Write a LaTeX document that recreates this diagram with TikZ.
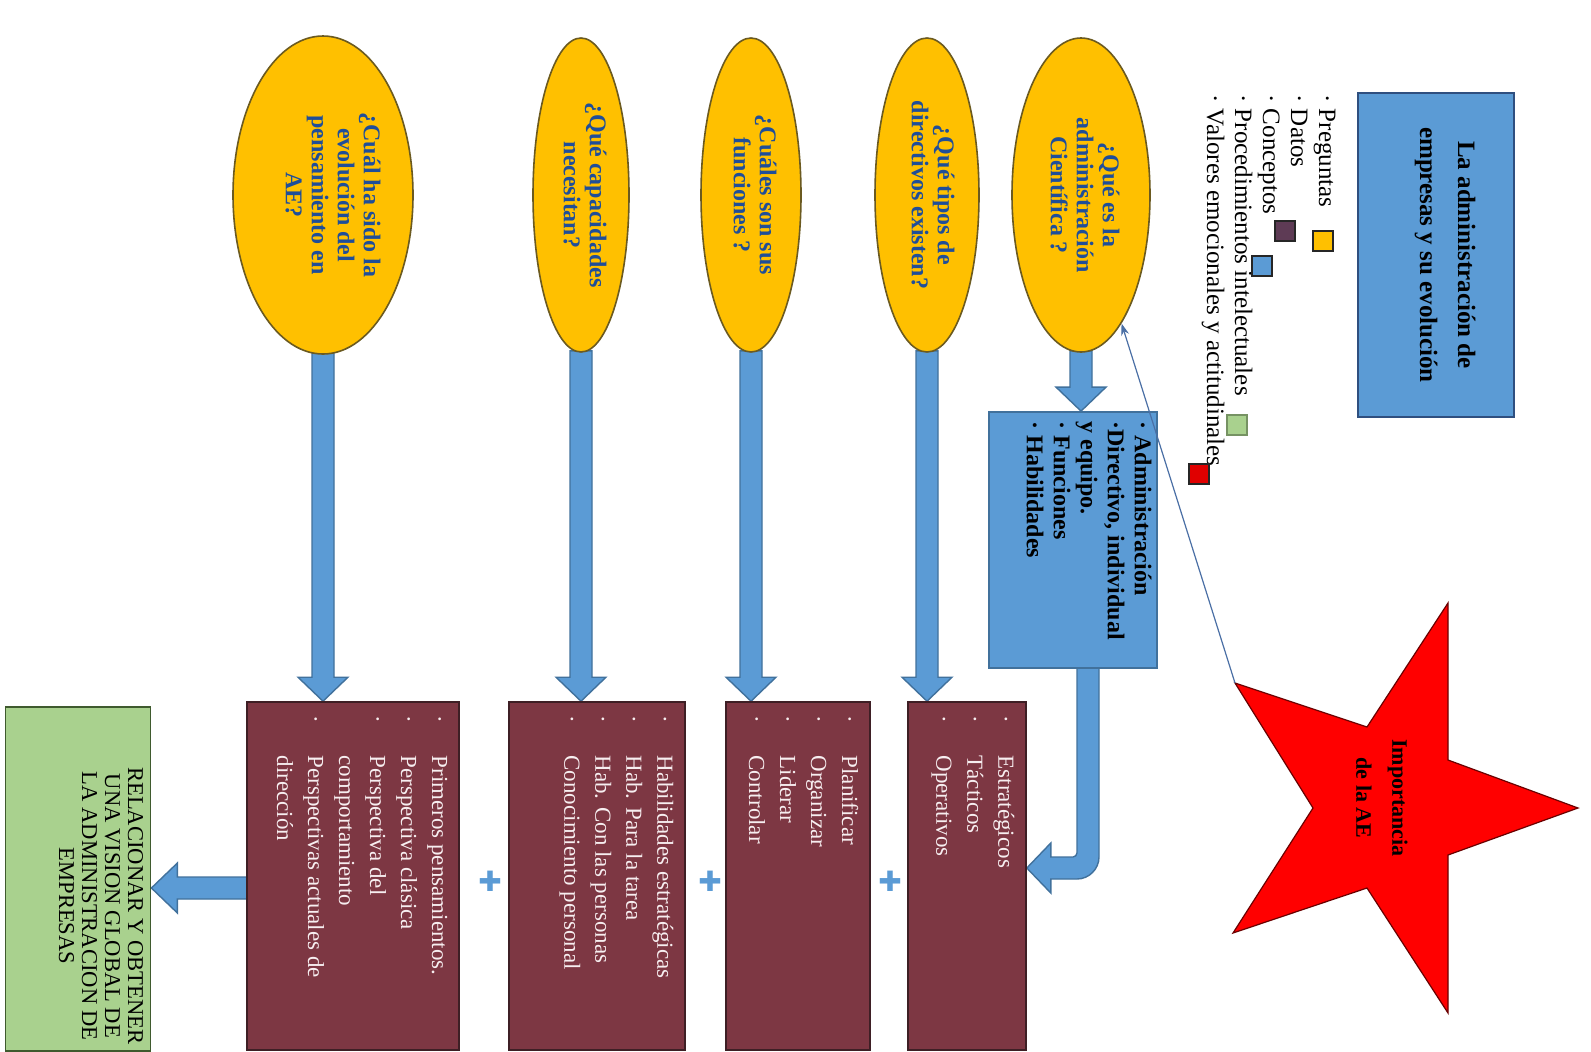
\documentclass[tikz,border=0pt]{standalone}
\usepackage{fontspec}
\setmainfont{Liberation Serif}
\newfontfamily\symfnt{DejaVu Sans}
\usetikzlibrary{calc,shapes.geometric,arrows.meta}
\pgfdeclarelayer{bg}
\pgfsetlayers{bg,main}
\definecolor{bfill}{HTML}{5B9BD5}
\definecolor{bline}{HTML}{41719C}
\definecolor{tline}{HTML}{2F4F7F}
\definecolor{yfill}{HTML}{FFC000}
\definecolor{yline}{HTML}{6B5A20}
\definecolor{qblue}{HTML}{1F4E99}
\definecolor{mfill}{HTML}{7D3743}
\definecolor{mline}{HTML}{3E1F25}
\definecolor{mtext}{HTML}{F7EEF0}
\definecolor{gfill}{HTML}{A9D18E}
\definecolor{gline}{HTML}{3F5A2E}
\definecolor{rfill}{HTML}{FF0000}
\definecolor{rline}{HTML}{6A0000}
\definecolor{pfill}{HTML}{5E3B55}
\definecolor{cline}{HTML}{4A6FA5}
\newcommand\bl[1]{\makebox[20pt][l]{·}#1}
\newcommand\ct[1]{\hspace*{20pt}#1}
\newcommand\vblk[2]{\draw[blk] let \p1=(#1), \p2=(#2) in
  (\x1-5.5pt,\y1+1pt) -- (\x1-5.5pt,\y2+12pt) -- (\x1-12.5pt,\y2+12pt) -- (\x1,\y2)
  -- (\x1+12.5pt,\y2+12pt) -- (\x1+5.5pt,\y2+12pt) -- (\x1+5.5pt,\y1+1pt) -- cycle;}
\newcommand\hblk[2]{\draw[blk] let \p1=(#1), \p2=(#2) in
  (\x1+1pt,\y1-5.5pt) -- (\x2+13pt,\y1-5.5pt) -- (\x2+13pt,\y1-12.5pt) -- (\x2,\y1)
  -- (\x2+13pt,\y1+12.5pt) -- (\x2+13pt,\y1+5.5pt) -- (\x1+1pt,\y1+5.5pt) -- cycle;}
\begin{document}
\begin{tikzpicture}[x=0.5pt,y=-0.5pt,
  blk/.style={fill=bfill,draw=bline,line width=0.7pt},
  titlebox/.style={rectangle,fill=bfill,draw=tline,line width=0.9pt,inner sep=0},
  bluebox/.style={rectangle,fill=bfill,draw=bline,line width=0.9pt,inner sep=0},
  qell/.style={ellipse,fill=yfill,draw=yline,line width=0.8pt,inner sep=0},
  qtxt/.style={rotate=-90,align=center,inner sep=0,text=qblue,font=\fontsize{12}{13}\selectfont\bfseries},
  mbox/.style={rectangle,fill=mfill,draw=mline,line width=0.8pt,inner sep=0,minimum height=174pt},
  mtxt/.style={rotate=-90,align=left,inner sep=0,anchor=north west,text=mtext,font=\fontsize{11.5}{15.5}\selectfont},
  lsq/.style={rectangle,draw=black!85,line width=0.8pt,inner sep=0,minimum size=10pt},
  plus/.style={inner sep=0,text=bfill,font=\symfnt\fontsize{14}{14}\selectfont}]
\useasboundingbox (0,0) rectangle (1591,1051);
\begin{pgfonlayer}{bg}
\fill[white] (0,0) rectangle (1591,1051);
\end{pgfonlayer}

% title
\node[titlebox,minimum width=78pt,minimum height=162pt] (title) at (1436,255) {};
\node[rotate=-90,align=center,inner sep=0,font=\fontsize{12.5}{19}\selectfont\bfseries] (titletxt) at (1445,255)
  {La administración de\\empresas y su evolución};

% legend
\node[rotate=-90,align=left,anchor=north west,inner sep=0,font=\fontsize{12.5}{14}\selectfont] (legend) at (1336,94)
  {· Preguntas\\· Datos\\· Conceptos\\· Procedimientos intelectuales\\· Valores emocionales y actitudinales};
\node[lsq,fill=yfill] (sq1) at (1323,241) {};
\node[lsq,fill=pfill] (sq2) at (1285,231) {};
\node[lsq,fill=bfill] (sq3) at (1262,266) {};
\node[lsq,fill=gfill,draw=gfill!70!black] (sq4) at (1237,425) {};
\node[lsq,fill=rfill!88!black] (sq5) at (1199,474) {};

% question ellipses
\node[qell,minimum width=69pt,minimum height=157pt] (e1) at (1081,195) {};
\node[qtxt] (t1) at ($(e1)+(4,0)$) {¿Qué es la\\administración\\Científica ?};
\node[qell,minimum width=52pt,minimum height=157pt] (e2) at (927,195) {};
\node[qtxt] (t2) at ($(e2)+(6,0)$) {¿Qué tipos de\\directivos existen?};
\node[qell,minimum width=50pt,minimum height=157pt] (e3) at (751,195) {};
\node[qtxt] (t3) at ($(e3)+(4,0)$) {¿Cuáles son sus\\funciones ?};
\node[qell,minimum width=48pt,minimum height=157pt] (e4) at (581,195) {};
\node[qtxt] (t4) at ($(e4)+(4,0)$) {¿Qué capacidades\\necesitan?};
\node[qell,minimum width=90pt,minimum height=159pt] (e5) at (323,195) {};
\node[qtxt] (t5) at ($(e5)+(10,0)$) {¿Cuál ha sido la\\evolución del\\pensamiento en\\AE?};

% blue concept box
\node[bluebox,minimum width=84pt,minimum height=128pt] (bx) at (1073,540) {};
\node[rotate=-90,align=left,anchor=north west,inner sep=0,font=\fontsize{12}{13.5}\selectfont\bfseries] (bxt)
  at ($(bx.north east)+(-6,10)$)
  {· Administración\\·Directivo, individual\\y equipo.\\· Funciones\\· Habilidades};

% maroon boxes
\node[mbox,minimum width=59pt] (b1) at (967,876) {};
\node[mtxt] (b1t) at ($(b1.north east)+(-12,14)$) {\bl{Estratégicos}\\\bl{Tácticos}\\\bl{Operativos}};
\node[mbox,minimum width=72pt] (b2) at (798,876) {};
\node[mtxt] (b2t) at ($(b2.north east)+(-12,14)$) {\bl{Planificar}\\\bl{Organizar}\\\bl{Liderar}\\\bl{Controlar}};
\node[mbox,minimum width=88pt] (b3) at (597,876) {};
\node[mtxt] (b3t) at ($(b3.north east)+(-12,14)$) {\bl{Habilidades estratégicas}\\\bl{Hab. Para la tarea}\\\bl{Hab. Con las personas}\\\bl{Conocimiento personal}};
\node[mbox,minimum width=106pt] (b4) at (353,876) {};
\node[mtxt] (b4t) at ($(b4.north east)+(-12,14)$) {\bl{Primeros pensamientos.}\\\bl{Perspectiva clásica}\\\bl{Perspectiva del}\\\ct{comportamiento}\\\bl{Perspectivas actuales de}\\\ct{dirección}};

% green box
\node[rectangle,fill=gfill,draw=gline,line width=0.9pt,inner sep=0,minimum width=72.5pt,minimum height=172pt] (gbox) at (78,879) {};
\node[rotate=-90,align=center,inner sep=0,font=\fontsize{11.3}{11.5}\selectfont] (gtxt) at (101,906)
  {RELACIONAR Y OBTENER\\UNA VISION GLOBAL DE\\LA ADMINISTRACION DE\\EMPRESAS};

% plus signs
\node[plus] (p1) at (890,881) {✚};
\node[plus] (p2) at (710,881) {✚};
\node[plus] (p3) at (490,881) {✚};

% star
\coordinate (sul) at (1235,683);
\fill[rfill,draw=rline,line width=0.6pt] (1448,603) -- (1448,760) -- (1578,808) -- (1448,855) -- (1448,1013)
  -- (1367,888) -- (1233,933) -- (1313,808) -- (sul) -- (1367,727) -- cycle;
\node[rotate=-90,align=center,inner sep=0,font=\fontsize{11}{18}\selectfont\bfseries] (star) at (1382,798)
  {Importancia\\de la AE};

% connectors
\begin{pgfonlayer}{bg}
\vblk{e1.south}{bx.north}
\vblk{e2.south}{b1.north}
\vblk{e3.south}{b2.north}
\vblk{e4.south}{b3.north}
\vblk{e5.south}{b4.north}
\hblk{$(b4.west)+(0,12)$}{gbox.east}
\draw[blk] let \p1=($(bx.south)+(15,0)$), \p2=($(b1.east)+(0,-8)$) in
  (\x1+5.5pt,\y1+1pt) -- (\x1+5.5pt,\y2-5.5pt+11pt)
  .. controls (\x1+5.5pt,\y2-5.5pt+5pt) and (\x1+5.5pt-5pt,\y2-5.5pt) .. (\x1+5.5pt-11pt,\y2-5.5pt)
  -- (\x2+12pt,\y2-5.5pt) -- (\x2+12pt,\y2-12.5pt) -- (\x2,\y2) -- (\x2+12pt,\y2+12.5pt)
  -- (\x2+12pt,\y2+5.5pt) -- (\x1-5.5pt-2pt,\y2+5.5pt)
  .. controls (\x1-5.5pt-1pt,\y2+5.5pt) and (\x1-5.5pt,\y2+5.5pt+1pt) .. (\x1-5.5pt,\y2+5.5pt+2pt)
  -- (\x1-5.5pt,\y1+1pt) -- cycle;
\end{pgfonlayer}
\draw[cline,line width=0.6pt,-{Stealth[length=6pt,width=4pt]}] (sul) -- (e1);
\end{tikzpicture}
\end{document}
